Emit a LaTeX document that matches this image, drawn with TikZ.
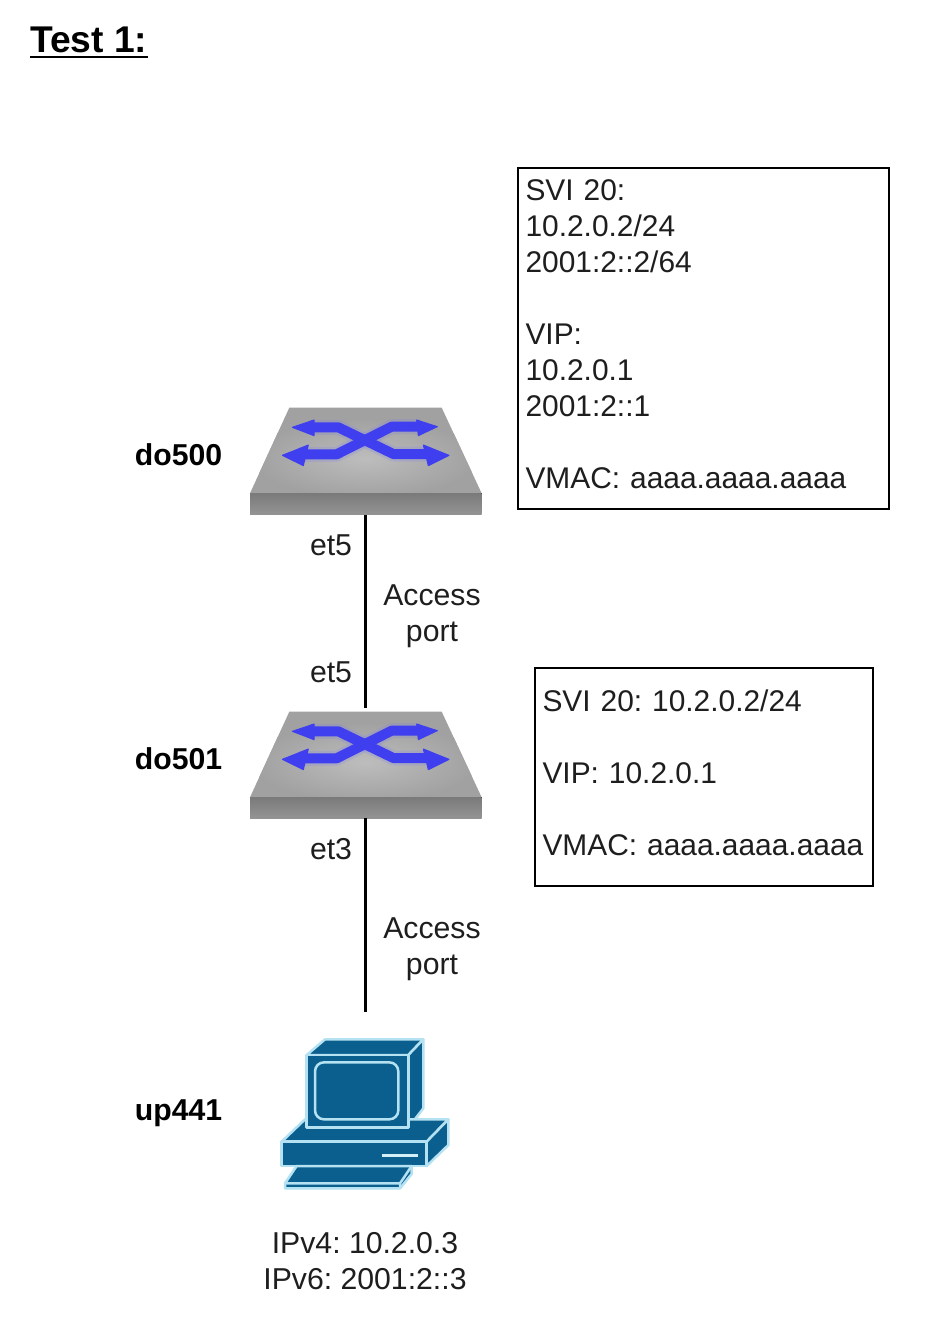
\documentclass[tikz,border=0pt]{standalone}
\usepackage{fontspec}
\setmainfont{Liberation Sans}
\usetikzlibrary{calc}
\definecolor{pcblue}{HTML}{0B5F8F}
\definecolor{pcline}{HTML}{B4E2F2}
\definecolor{swblue}{HTML}{3F3FF0}
\definecolor{txt}{HTML}{1E1E1E}
\tikzset{
  lbl/.style={font=\fontsize{30.2}{36}\selectfont,text=txt,inner sep=0pt,align=center},
  hostname/.style={font=\fontsize{30.2}{36}\selectfont\bfseries,text=black,inner sep=0pt},
  infobox/.style={draw=black,line width=2pt,fill=white,anchor=north west,align=left,
    font=\fontsize{29.9}{36}\selectfont,text=txt,inner sep=0pt},
  link/.style={draw=black,line width=3pt},
  pcface/.style={fill=pcblue,draw=pcline,line width=2.5pt,line join=round},
  swarrow/.style={draw=swblue,line width=10pt,line join=round},
  swglow/.style={draw=swblue!70!white,line width=15pt,line join=round,opacity=0.2},
  swtip/.style={fill=swblue,draw=swblue,line width=1pt,line join=round},
  swbox/.style={minimum width=235pt,minimum height=110pt,inner sep=0pt}
}
\newcommand{\drawswitch}[1]{%
\begin{scope}[shift={(240,#1)},scale=1/3]
  \fill[black!37] (148,38) -- (605,38) -- (725,295) -- (30,295) -- cycle;
  \begin{scope}
    \clip (148,38) -- (605,38) -- (725,295) -- (30,295) -- cycle;
    \shade[inner color=black!26,outer color=black!37] (375,190) ellipse (340 and 120);
  \end{scope}
  \fill[top color=black!52,bottom color=black!42] (30,295) -- (725,295) -- (725,358) -- (30,358) -- cycle;
  \draw[swglow] (210,97) -- (295,97) -- (460,177) -- (575,177);
  \draw[swglow] (175,178) -- (290,178) -- (455,95) -- (540,95);
  \draw[swarrow] (210,97) -- (295,97) -- (460,177) -- (575,177);
  \draw[swarrow] (175,178) -- (290,178) -- (455,95) -- (540,95);
  \fill[swtip] (157,97) -- (222,75) -- (222,122) -- cycle;
  \fill[swtip] (127,181) -- (205,150) -- (190,212) -- cycle;
  \fill[swtip] (592,95) -- (530,75) -- (535,122) -- cycle;
  \fill[swtip] (627,181) -- (550,150) -- (565,212) -- cycle;
\end{scope}}
\begin{document}
\frenchspacing
\begin{tikzpicture}[x=1pt,y=-1pt]
\useasboundingbox (0,0) rectangle (934,1332);
\fill[white] (0,0) rectangle (934,1332);

\node[font=\fontsize{37.2}{40}\selectfont\bfseries,anchor=base west,inner sep=0pt,text=black] (title) at (30,53) {Test 1:};
\draw[line width=2.4pt] ($(title.base west)+(0,4)$) -- ($(title.base east)+(0,4)$);

\drawswitch{395}
\drawswitch{699}
\node[swbox] (do500sw) at (365,460) {};
\node[swbox] (do501sw) at (365,763) {};

\begin{scope}[shift={(270,1030)},scale=1/3]
  \path[pcface] (110,75) -- (165,28) -- (460,28) -- (415,75) -- cycle;
  \path[pcface] (415,75) -- (460,28) -- (460,235) -- (415,293) -- cycle;
  \path[pcface] (35,335) -- (105,268) -- (535,268) -- (470,335) -- cycle;
  \path[pcface] (470,335) -- (535,268) -- (535,345) -- (470,408) -- cycle;
  \path[pcface] (35,335) rectangle (470,408);
  \path[pcface] (110,75) rectangle (415,293);
  \draw[pcline,line width=2.5pt,rounded corners=9pt] (135,97) rectangle (385,268);
  \fill[pcline!60!white] (335,372) rectangle (445,382);
  \path[pcface] (80,408) -- (425,408) -- (425,432) -- (390,475) -- (45,475) -- (45,460) -- cycle;
  \draw[pcline,line width=2.5pt,line join=round] (45,460) -- (390,460) -- (425,408) (390,460) -- (390,475);
\end{scope}
\coordinate (pclink) at (365,1012);

\draw[link] (do500sw.south) -- (do501sw.north);
\draw[link] (do501sw.south) -- (pclink);

\node[hostname] (n500) at (178.5,455) {do500};
\node[hostname] (n501) at (178.5,759) {do501};
\node[hostname] (n441) at (178.5,1113) {up441};

\node[lbl] (e1) at (331,545) {et5};
\node[lbl] (e2) at (331,672) {et5};
\node[lbl] (e3) at (331,849) {et3};
\node[lbl] (a1) at (432,616) {Access\\port};
\node[lbl] (a2) at (432,949) {Access\\port};
\node[lbl] (ip) at (365,1261) {IPv4: 10.2.0.3\\IPv6: 2001:2::3};

\node[infobox,minimum width=371pt,minimum height=341pt,text width=355pt,inner xsep=8pt] (b1) at (516.5,167)
 {SVI 20:\\10.2.0.2/24\\2001:2::2/64\\\mbox{}\\VIP:\\10.2.0.1\\2001:2::1\\\mbox{}\\VMAC: aaaa.aaaa.aaaa\\[-28pt]\mbox{}};
\node[infobox,minimum width=338pt,minimum height=218pt,text width=322pt,inner xsep=8pt] (b2) at (533.5,667)
 {SVI 20: 10.2.0.2/24\\\mbox{}\\VIP: 10.2.0.1\\\mbox{}\\VMAC: aaaa.aaaa.aaaa\\[-28pt]\mbox{}};
\end{tikzpicture}
\end{document}
